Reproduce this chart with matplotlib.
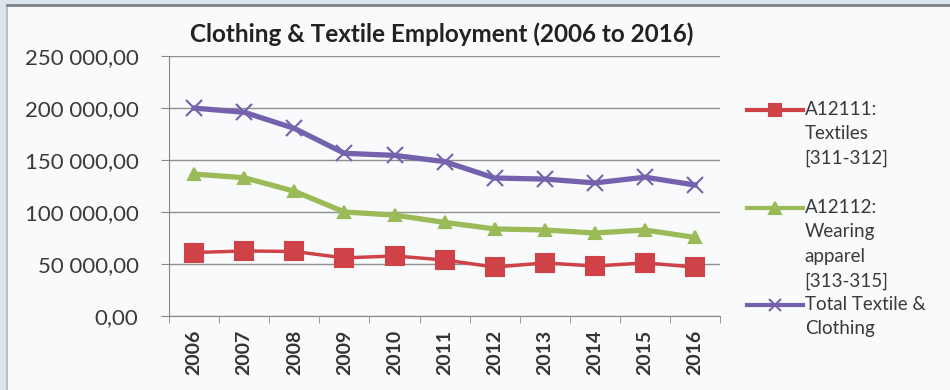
import matplotlib
matplotlib.use("Agg")
import matplotlib.pyplot as plt
from matplotlib.lines import Line2D
from matplotlib.patches import Rectangle
from matplotlib.ticker import FuncFormatter

# data
years = ["2006", "2007", "2008", "2009", "2010", "2011",
         "2012", "2013", "2014", "2015", "2016"]
textiles = [61000, 62500, 62000, 55800, 57700, 53800,
            47000, 51000, 48000, 51000, 47000]
apparel = [136500, 133000, 120000, 100000, 97000, 90000,
           83700, 82700, 79800, 82700, 75500]
total = [200000, 196000, 180500, 156500, 154500, 148500,
         132700, 131700, 128000, 133500, 126000]

labels = ["A12111:\nTextiles\n[311-312]",
          "A12112:\nWearing\napparel\n[313-315]",
          "Total Textile &\nClothing"]
colors = ["#CF4348", "#9BBB59", "#7562AE"]
markers = ["s", "^", "x"]
line_w = [2.5, 3.8, 3.8]
mark_s = [13, 9, 11]

plt.rcParams["font.family"] = ["Lato", "DejaVu Sans"]

fig = plt.figure(figsize=(9.5, 3.9), dpi=100)
fig.patch.set_facecolor("#dce5ee")
# chart frame (runs off the right and bottom edges)
fig.patches.append(Rectangle((0.0075, -0.05), 1.1, 1.037, transform=fig.transFigure,
                             facecolor="#f8fafb", edgecolor="#b9bec4", lw=1.5, zorder=-10))
fig.lines.append(Line2D([0.0075, 1.0], [0.987, 0.987], transform=fig.transFigure,
                        color="#808488", lw=2, zorder=-9))

ax = fig.add_axes([0.178, 0.19, 0.58, 0.666])
ax.set_facecolor("none")
x = list(range(len(years)))
series = [textiles, apparel, total]
for vals, c, m, lw, ms in zip(series, colors, markers, line_w, mark_s):
    ax.plot(x, vals, color=c, lw=lw, marker=m, ms=ms, mew=1.5, zorder=3)

ax.set_xlim(-0.5, len(years) - 0.5)
ax.set_ylim(0, 250000)
ax.set_yticks(range(0, 250001, 50000))
ax.yaxis.set_major_formatter(FuncFormatter(lambda v, p: "{:,.2f}".format(v).replace(",", " ").replace(".", ",")))
ax.set_xticks(x)
ax.set_xticklabels(years, rotation=90, fontweight="bold", fontsize=14)
ax.set_xticks([i - 0.5 for i in range(len(years) + 1)], minor=True)
ax.tick_params(axis="x", which="major", length=0, pad=10, colors="#333333")
ax.tick_params(axis="x", which="minor", length=5, color="#888888")
ax.tick_params(axis="y", length=6, color="#888888", labelsize=16, pad=16,
               labelcolor="#3a3a3a")
ax.grid(axis="y", color="#8f8f8f", lw=1)
ax.set_axisbelow(True)
for s in ["top", "right"]:
    ax.spines[s].set_visible(False)
for s in ["left", "bottom"]:
    ax.spines[s].set_color("#888888")

fig.text(0.465, 0.913, "Clothing & Textile Employment (2006 to 2016)",
         ha="center", va="center", fontsize=17.5, fontweight="bold", color="#222222")

# legend, handle aligned with first text line like Excel
leg_y = [0.718, 0.467, 0.218]
for lab, c, m, yy in zip(labels, colors, markers, leg_y):
    fig.lines.append(Line2D([0.786, 0.845], [yy, yy], transform=fig.transFigure,
                            color=c, lw=3))
    fig.lines.append(Line2D([0.8155], [yy], transform=fig.transFigure,
                            color=c, marker=m, ms=8, mew=1.5, lw=0))
    fig.text(0.847, yy + 0.024, lab, ha="left", va="top", fontsize=13.5,
             color="#3a3a3a", linespacing=1.55)

fig.savefig("out.png", dpi=100, facecolor=fig.get_facecolor())
